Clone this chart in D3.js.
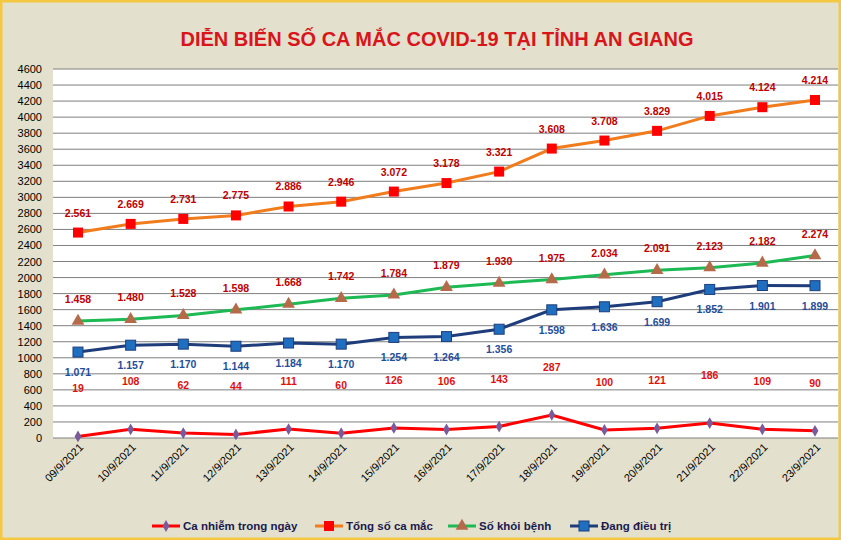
<!DOCTYPE html>
<html><head><meta charset="utf-8">
<script src="https://cdn.jsdelivr.net/npm/d3@7"></script>
<style>body{margin:0;background:#fff}text{font-family:"Liberation Sans",Arial,sans-serif}</style>
</head><body><svg id="c" width="841" height="540"></svg>
<script>
var dates = ["09/9/2021","10/9/2021","11/9/2021","12/9/2021","13/9/2021","14/9/2021","15/9/2021","16/9/2021","17/9/2021","18/9/2021","19/9/2021","20/9/2021","21/9/2021","22/9/2021","23/9/2021"];
var daily = [19,108,62,44,111,60,126,106,143,287,100,121,186,109,90];
var total = [2561,2669,2731,2775,2886,2946,3072,3178,3321,3608,3708,3829,4015,4124,4214];
var recovered = [1458,1480,1528,1598,1668,1742,1784,1879,1930,1975,2034,2091,2123,2182,2274];
var treating = [1071,1157,1170,1144,1184,1170,1254,1264,1356,1598,1636,1699,1852,1901,1899];
var yTicks = d3.range(0, 4601, 200);

var svg = d3.select('#c');
svg.append('rect').attr('x',1).attr('y',1).attr('width',839).attr('height',538)
  .attr('fill','#e3e0cd').attr('stroke','#f5c842').attr('stroke-width',3);
svg.append('text').attr('x',437).attr('y',46).attr('text-anchor','middle')
  .attr('fill','#d9141b').attr('font-weight','bold').attr('font-size',20)
  .text('DIỄN BIẾN SỐ CA MẮC COVID-19 TẠI TỈNH AN GIANG');

var x = d3.scalePoint().domain(dates).range([78, 815]);
var y = d3.scaleLinear().domain([0, 4600]).range([438, 69]);
svg.append('rect').attr('x',53).attr('y',69).attr('width',785).attr('height',369).attr('fill','#fff');

svg.append('g').selectAll('line').data(yTicks).join('line')
  .attr('x1',53).attr('x2',838).attr('y1',d=>y(d)).attr('y2',d=>y(d))
  .attr('stroke','#7f7f7f').attr('stroke-width',1);
svg.append('g').selectAll('text').data(yTicks).join('text')
  .attr('x',42).attr('y',d=>y(d)+4).attr('text-anchor','end').attr('font-size',11).attr('fill','#000')
  .text(d=>d);
svg.append('g').selectAll('text').data(dates).join('text')
  .attr('transform',d=>'translate('+(x(d)+6)+',448) rotate(-45)')
  .attr('text-anchor','end').attr('font-size',11).attr('fill','#000').text(d=>d);

var fmt = d3.format(',');
function lbl(v){ return fmt(v).replace(/,/g,'.'); }

var series = [
  {vals: daily, line:'#ff0000', mk:'#7a5a9a', shape:'diamond', lc:'#e01010', dy:-44},
  {vals: total, line:'#f07c1c', mk:'#ff0000', shape:'square', lc:'#c00000', dy:-16},
  {vals: recovered, line:'#1db954', mk:'#b56a4a', shape:'triangle', lc:'#c00000', dy:-18},
  {vals: treating, line:'#1f3d7a', mk:'#1f6fc0', shape:'square', lc:'#1f4e9a', dy:24}
];
var line = d3.line().x((d,i)=>x(dates[i])).y(d=>y(d));
function marker(g, s, cx, cy){
  if (s.shape==='square') g.append('rect').attr('x',cx-5).attr('y',cy-5).attr('width',10).attr('height',10).attr('fill',s.mk).attr('stroke',s===series[3]?'#1f3d7a':'none');
  else if (s.shape==='diamond') g.append('path').attr('d',d3.symbol(d3.symbolDiamond,40)()).attr('transform','translate('+cx+','+cy+')').attr('fill',s.mk);
  else g.append('path').attr('d',d3.symbol(d3.symbolTriangle,70)()).attr('transform','translate('+cx+','+cy+')').attr('fill',s.mk);
}
series.forEach(function(s){
  svg.append('path').attr('d',line(s.vals)).attr('fill','none').attr('stroke',s.line).attr('stroke-width',3);
  var g = svg.append('g');
  s.vals.forEach(function(v,i){ marker(g, s, x(dates[i]), y(v)); });
  svg.append('g').selectAll('text').data(s.vals).join('text')
    .attr('x',(d,i)=>x(dates[i])).attr('y',d=>y(d)+s.dy).attr('text-anchor','middle')
    .attr('font-size',10.5).attr('font-weight','bold').attr('fill',s.lc).text(lbl);
});

var legend = [['Ca nhiễm trong ngày',0,152],['Tổng số ca mắc',1,315],['Số khỏi bệnh',2,448],['Đang điều trị',3,570]];
legend.forEach(function(l){
  var s = series[l[1]], lx = l[2];
  svg.append('line').attr('x1',lx).attr('x2',lx+28).attr('y1',526).attr('y2',526).attr('stroke',s.line).attr('stroke-width',3);
  marker(svg, s, lx+14, 526);
  svg.append('text').attr('x',lx+31).attr('y',530).attr('font-size',11.5).attr('font-weight','bold').attr('fill','#1a1a50').text(l[0]);
});
</script></body></html>
